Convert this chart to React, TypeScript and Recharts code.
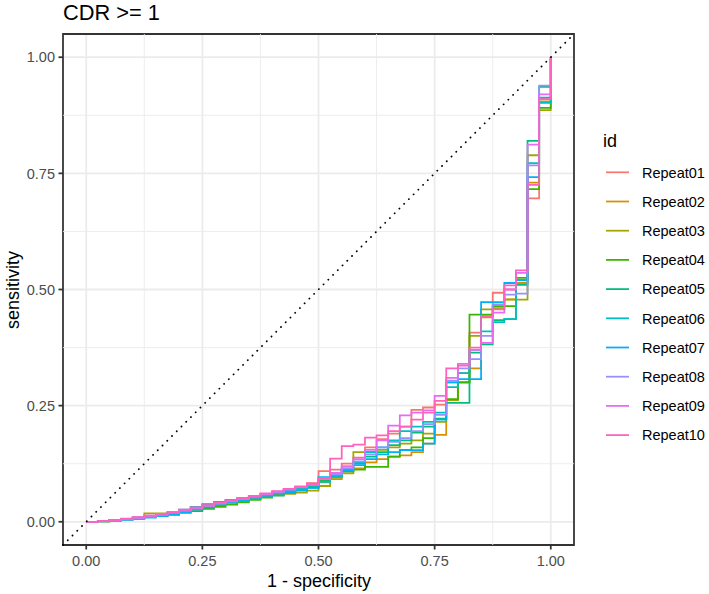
import {
  LineChart,
  Line,
  XAxis,
  YAxis,
  CartesianGrid,
  ReferenceLine,
  ReferenceArea,
} from "recharts";

// 1 - specificity grid (40 negatives -> steps of 0.025)
const fpr = [
  0, 0.025, 0.05, 0.075, 0.1, 0.125, 0.15, 0.175, 0.2, 0.225, 0.25, 0.275, 0.3, 0.325,
  0.35, 0.375, 0.4, 0.425, 0.45, 0.475, 0.5, 0.525, 0.55, 0.575, 0.6, 0.625, 0.65,
  0.675, 0.7, 0.725, 0.75, 0.775, 0.8, 0.825, 0.85, 0.875, 0.9, 0.925, 0.95, 0.975, 1.0,
];

// sensitivity per repeat
const repeat01 = [
  0.0, 0.002, 0.004, 0.006, 0.008, 0.011, 0.014, 0.018, 0.024, 0.03, 0.035, 0.04, 0.044,
  0.048, 0.052, 0.057, 0.062, 0.068, 0.075, 0.083, 0.109, 0.112, 0.125, 0.138, 0.16,
  0.178, 0.19, 0.205, 0.241, 0.246, 0.252, 0.3, 0.32, 0.407, 0.443, 0.493, 0.5, 0.52,
  0.696, 0.91, 1.0,
];
const repeat02 = [
  0.0, 0.001, 0.003, 0.005, 0.007, 0.01, 0.014, 0.018, 0.023, 0.028, 0.033, 0.038, 0.042,
  0.046, 0.05, 0.054, 0.058, 0.063, 0.068, 0.074, 0.085, 0.092, 0.104, 0.115, 0.128,
  0.135, 0.14, 0.143, 0.15, 0.168, 0.187, 0.262, 0.3, 0.33, 0.44, 0.458, 0.479, 0.514,
  0.73, 0.905, 1.0,
];
const repeat03 = [
  0.0, 0.002, 0.004, 0.006, 0.008, 0.018, 0.018, 0.02, 0.024, 0.028, 0.033, 0.037, 0.041,
  0.045, 0.049, 0.053, 0.057, 0.06, 0.063, 0.067, 0.077, 0.095, 0.11, 0.15, 0.15, 0.155,
  0.16, 0.168, 0.175, 0.19, 0.215, 0.262, 0.3, 0.4, 0.457, 0.46, 0.478, 0.478, 0.789,
  0.886, 1.0,
];
const repeat04 = [
  0.0, 0.001, 0.003, 0.005, 0.007, 0.01, 0.012, 0.015, 0.019, 0.023, 0.028, 0.032, 0.037,
  0.042, 0.047, 0.052, 0.057, 0.062, 0.068, 0.074, 0.088, 0.098, 0.108, 0.112, 0.118,
  0.118, 0.14, 0.155, 0.16, 0.18, 0.221, 0.264, 0.3, 0.446, 0.446, 0.464, 0.464, 0.525,
  0.716, 0.891, 1.0,
];
const repeat05 = [
  0.0, 0.002, 0.004, 0.006, 0.009, 0.012, 0.015, 0.019, 0.025, 0.031, 0.037, 0.042, 0.046,
  0.05, 0.054, 0.058, 0.062, 0.066, 0.071, 0.077, 0.09, 0.1, 0.112, 0.125, 0.14, 0.15,
  0.165, 0.175, 0.192, 0.205, 0.222, 0.256, 0.256, 0.364, 0.382, 0.434, 0.436, 0.51,
  0.82, 0.936, 1.0,
];
const repeat06 = [
  0.0, 0.002, 0.004, 0.006, 0.009, 0.012, 0.016, 0.02, 0.026, 0.032, 0.038, 0.043, 0.047,
  0.051, 0.055, 0.059, 0.063, 0.067, 0.07, 0.074, 0.086, 0.098, 0.115, 0.128, 0.15,
  0.16, 0.175, 0.195, 0.205, 0.215, 0.235, 0.29, 0.32, 0.37, 0.41, 0.43, 0.436, 0.52,
  0.772, 0.902, 1.0,
];
const repeat07 = [
  0.0, 0.001, 0.002, 0.004, 0.006, 0.009, 0.012, 0.016, 0.021, 0.026, 0.031, 0.036, 0.041,
  0.045, 0.049, 0.053, 0.057, 0.062, 0.067, 0.073, 0.096, 0.1, 0.11, 0.122, 0.135, 0.145,
  0.15, 0.154, 0.154, 0.168, 0.22, 0.3, 0.307, 0.307, 0.473, 0.473, 0.514, 0.52, 0.742,
  0.913, 1.0,
];
const repeat08 = [
  0.0, 0.002, 0.003, 0.005, 0.008, 0.011, 0.015, 0.019, 0.024, 0.029, 0.034, 0.039, 0.044,
  0.049, 0.054, 0.059, 0.064, 0.069, 0.074, 0.079, 0.092, 0.102, 0.115, 0.13, 0.145,
  0.16, 0.172, 0.18, 0.195, 0.21, 0.23, 0.304, 0.33, 0.35, 0.4, 0.468, 0.489, 0.491,
  0.767, 0.939, 1.0,
];
const repeat09 = [
  0.0, 0.002, 0.004, 0.006, 0.009, 0.013, 0.016, 0.02, 0.025, 0.03, 0.035, 0.04, 0.045,
  0.05, 0.055, 0.06, 0.065, 0.07, 0.075, 0.08, 0.094, 0.105, 0.12, 0.135, 0.155, 0.175,
  0.207, 0.229, 0.235, 0.24, 0.271, 0.31, 0.34, 0.37, 0.385, 0.45, 0.5, 0.536, 0.812,
  0.92, 1.0,
];
const repeat10 = [
  0.0, 0.002, 0.004, 0.007, 0.01, 0.013, 0.017, 0.021, 0.026, 0.031, 0.036, 0.041, 0.046,
  0.051, 0.056, 0.061, 0.066, 0.071, 0.076, 0.082, 0.094, 0.136, 0.163, 0.166, 0.181,
  0.186, 0.195, 0.205, 0.22, 0.235, 0.26, 0.33, 0.336, 0.375, 0.443, 0.457, 0.509,
  0.541, 0.725, 0.91, 1.0,
];

const seriesNames = [
  "Repeat01", "Repeat02", "Repeat03", "Repeat04", "Repeat05",
  "Repeat06", "Repeat07", "Repeat08", "Repeat09", "Repeat10",
];
const seriesValues = [
  repeat01, repeat02, repeat03, repeat04, repeat05,
  repeat06, repeat07, repeat08, repeat09, repeat10,
];
const colors = [
  "#F8766D", "#D89000", "#A3A500", "#39B600", "#00BF7D",
  "#00BFC4", "#00B0F6", "#9590FF", "#E76BF3", "#FF62BC",
];
const majorTicks = [0, 0.25, 0.5, 0.75, 1];
const minorTicks = [0.125, 0.375, 0.625, 0.875];

const data = fpr.map((x, i) => {
  const row: Record<string, number> = { fpr: x };
  seriesNames.forEach((name, s) => {
    row[name] = seriesValues[s][i];
  });
  return row;
});

const FONT = "'Liberation Sans', Arial, Helvetica, sans-serif";
const LW = 1.76;
const tickStyle = { fill: "#4D4D4D", fontSize: 14.5, fontFamily: FONT };

export default function App() {
  return (
    <div style={{ position: "absolute", left: 0, top: 0, width: 709, height: 594, background: "#fff" }}>
      <LineChart
        width={709}
        height={594}
        data={data}
        margin={{ top: 34, right: 135, bottom: 19, left: 23 }}
      >
        <CartesianGrid stroke="#EBEBEB" strokeWidth={LW} />
        {minorTicks.map((t) => (
          <ReferenceLine key={"vx" + t} x={t} stroke="#EBEBEB" strokeWidth={0.9} />
        ))}
        {minorTicks.map((t) => (
          <ReferenceLine key={"hy" + t} y={t} stroke="#EBEBEB" strokeWidth={0.9} />
        ))}
        <XAxis
          dataKey="fpr"
          type="number"
          domain={[-0.05, 1.05]}
          ticks={majorTicks}
          tickFormatter={(v: number) => v.toFixed(2)}
          allowDataOverflow
          axisLine={false}
          tickLine={{ stroke: "#333333", strokeWidth: LW }}
          tickSize={4.5}
          tickMargin={6.5}
          tick={tickStyle}
          height={30}
        />
        <YAxis
          type="number"
          domain={[-0.05, 1.05]}
          ticks={majorTicks}
          tickFormatter={(v: number) => v.toFixed(2)}
          allowDataOverflow
          axisLine={false}
          tickLine={{ stroke: "#333333", strokeWidth: LW }}
          tickSize={4.5}
          tickMargin={3.5}
          tick={tickStyle}
          width={40}
        />
        {seriesNames.map((name, s) => (
          <Line
            key={name}
            dataKey={name}
            type="stepAfter"
            stroke={colors[s]}
            strokeWidth={LW}
            dot={false}
            activeDot={false}
            isAnimationActive={false}
          />
        ))}
        <ReferenceLine
          segment={[
            { x: -0.05, y: -0.05 },
            { x: 1.05, y: 1.05 },
          ]}
          stroke="#000"
          strokeWidth={1.8}
          strokeDasharray="0.1 6.6"
          strokeLinecap="round"
        />
        <ReferenceArea
          x1={-0.05}
          x2={1.05}
          y1={-0.05}
          y2={1.05}
          fill="none"
          fillOpacity={0}
          stroke="#333333"
          strokeWidth={LW}
        />
      </LineChart>
      <svg
        width={709}
        height={594}
        style={{ position: "absolute", left: 0, top: 0, pointerEvents: "none" }}
        fontFamily={FONT}
      >
        <text x={63} y={20} fontSize={21.8} fill="#000">
          CDR &gt;= 1
        </text>
        <text x={319} y={587} fontSize={18} textAnchor="middle" fill="#000">
          1 - specificity
        </text>
        <text
          x={19}
          y={290}
          fontSize={18}
          textAnchor="middle"
          fill="#000"
          transform="rotate(-90 19 290)"
        >
          sensitivity
        </text>
        <text x={603} y={146.5} fontSize={18} fill="#000">
          id
        </text>
        {seriesNames.map((name, s) => {
          const y = 172.3 + s * 29.2;
          return (
            <g key={name}>
              <line x1={606} x2={629} y1={y} y2={y} stroke={colors[s]} strokeWidth={LW} />
              <text x={642} y={y + 5.2} fontSize={14.5} fill="#000">
                {name}
              </text>
            </g>
          );
        })}
      </svg>
    </div>
  );
}
